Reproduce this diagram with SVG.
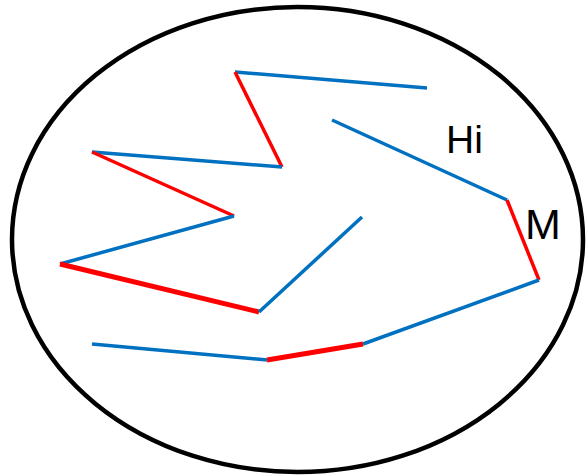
<svg xmlns="http://www.w3.org/2000/svg" width="587" height="476" viewBox="0 0 587 476">
<style>
.b{stroke:#0070C0;stroke-width:3.5;fill:none}
.r{stroke:#FF0000;stroke-width:3.5;fill:none}
.rt{stroke:#FF0000;stroke-width:5;fill:none}
.t{font-family:"Liberation Sans",Arial,sans-serif;fill:#000}
</style>
<rect width="587" height="476" fill="#fff"/>
<g id="boundary"><ellipse cx="297.5" cy="239.5" rx="285.5" ry="232.5" fill="none" stroke="#000" stroke-width="4.5"/></g>
<g id="connectors">
<line class="b" x1="235" y1="72" x2="427" y2="88"/>
<line class="r" x1="235" y1="72" x2="282" y2="167"/>
<line class="b" x1="282" y1="167" x2="92" y2="152"/>
<line class="r" x1="92" y1="152" x2="234" y2="216"/>
<line class="b" x1="234" y1="216" x2="60" y2="264"/>
<line class="rt" x1="60" y1="264" x2="259" y2="312"/>
<line class="b" x1="259" y1="312" x2="362" y2="217"/>
<line class="b" x1="332" y1="120" x2="507" y2="200"/>
<line class="r" x1="507" y1="200" x2="539" y2="280"/>
<line class="b" x1="539" y1="280" x2="363" y2="344"/>
<line class="rt" x1="363" y1="344" x2="267" y2="360"/>
<line class="b" x1="267" y1="360" x2="92" y2="344"/>
</g>
<g id="label-hi"><text class="t" x="446" y="153" font-size="39">Hi</text></g>
<g id="label-m"><text class="t" x="525" y="239" font-size="43">M</text></g>
</svg>
